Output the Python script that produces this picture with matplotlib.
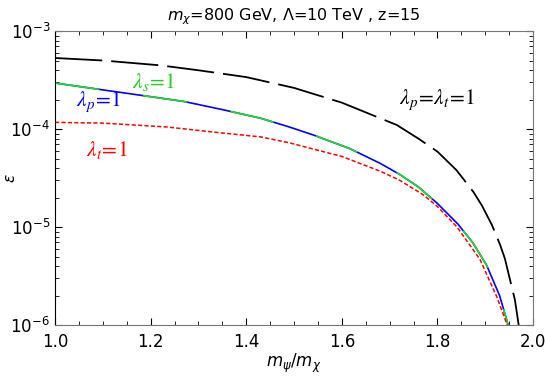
import numpy as np
import matplotlib
matplotlib.use("Agg")
import matplotlib.pyplot as plt

plt.rcParams['mathtext.fontset'] = 'dejavusans'
plt.rcParams['lines.scale_dashes'] = False

# data
x_pt = [1.0, 1.1, 1.22, 1.3, 1.4, 1.5, 1.6, 1.68, 1.715, 1.76, 1.80, 1.84, 1.875,
        1.893, 1.914, 1.931, 1.941, 1.952, 1.962, 1.970]
eps_pt = [5.31e-4, 5.01e-4, 4.47e-4, 3.98e-4, 3.39e-4, 2.63e-4, 1.86e-4, 1.29e-4,
          1.10e-4, 8.0e-5, 5.89e-5, 3.80e-5, 2.29e-5, 1.66e-5, 1.05e-5, 6.61e-6,
          4.79e-6, 2.88e-6, 1.82e-6, 1.0e-6]

x_p = [1.0, 1.1, 1.2, 1.27, 1.35, 1.43, 1.49, 1.54, 1.617, 1.68, 1.72, 1.76, 1.80,
       1.843, 1.874, 1.903, 1.93, 1.948]
eps_p = [2.95e-4, 2.51e-4, 2.14e-4, 1.91e-4, 1.58e-4, 1.29e-4, 1.05e-4, 8.71e-5,
         6.31e-5, 4.47e-5, 3.47e-5, 2.57e-5, 1.74e-5, 1.07e-5, 6.92e-6, 4.07e-6,
         2.00e-6, 1.0e-6]
eps_s = [2.95e-4, 2.51e-4, 2.14e-4, 1.91e-4, 1.58e-4, 1.29e-4, 1.05e-4, 8.71e-5,
         6.31e-5, 4.47e-5, 3.47e-5, 2.57e-5, 1.74e-5, 1.07e-5, 6.92e-6, 4.07e-6,
         2.00e-6, 1.0e-6]

x_t = [1.0, 1.1, 1.234, 1.33, 1.43, 1.49, 1.6, 1.68, 1.72, 1.77, 1.80, 1.841,
       1.889, 1.924, 1.946]
eps_t = [1.17e-4, 1.15e-4, 1.05e-4, 9.33e-5, 8.32e-5, 7.24e-5, 5.25e-5, 3.72e-5,
         3.02e-5, 2.14e-5, 1.62e-5, 1.00e-5, 4.68e-6, 1.95e-6, 1.0e-6]

fig = plt.figure(figsize=(5.45, 3.79), dpi=100)
ax = fig.add_axes([0.101, 0.1425, 0.877, 0.7755])

ax.plot(x_pt, eps_pt, color='black', lw=1.3, linestyle=(0, (34, 6.5)))
ax.plot(x_p, eps_p, color='blue', lw=1.2)
ax.plot(x_p, eps_s, color='#22dd22', lw=1.2, linestyle=(0, (32, 32)))
ax.plot(x_t, eps_t, color='red', lw=1.1, linestyle=(0, (3, 1.6)))

ax.set_yscale('log')
ax.set_xlim(1.0, 2.0)
ax.set_ylim(1e-6, 1e-3)
ax.set_xticks([1.0, 1.2, 1.4, 1.6, 1.8, 2.0])
ax.set_xticks(np.arange(1.0, 2.0001, 0.05), minor=True)
ax.tick_params(which='both', direction='in', top=True, right=True, labelsize=12)
ax.tick_params(which='major', length=5)
ax.tick_params(which='minor', length=3)
ax.tick_params(axis='x', which='major', pad=5.5)
for s in ['bottom', 'top', 'right']:
    ax.spines[s].set_color('#777777')
ax.spines['left'].set_color('black')

ax.set_xlabel(r'$m_\psi/m_\chi$', fontsize=12, labelpad=1)
ax.set_ylabel(r'$\epsilon$', fontsize=11, rotation=90)
ax.yaxis.set_label_coords(-0.078, 0.5)
ax.set_title(r'$m_\chi$=800 GeV, $\Lambda$=10 TeV , z=15', fontsize=11.5, pad=8)

tk = dict(family='serif', fontsize=15.5, math_fontfamily='stix')
ax.text(1.207, 3.0e-4, r'$\lambda_s\!=\!1$', color='#22cc22', ha='center', va='center', **tk)
ax.text(1.090, 1.89e-4, r'$\lambda_p\!=\!1$', color='blue', ha='center', va='center', **tk)
ax.text(1.109, 6.1e-5, r'$\lambda_t\!=\!1$', color='red', ha='center', va='center', **tk)
ax.text(1.799, 1.98e-4, r'$\lambda_p\!=\!\lambda_t\!=\!1$', color='black', ha='center', va='center', **tk)

fig.savefig('out.png', dpi=100)
